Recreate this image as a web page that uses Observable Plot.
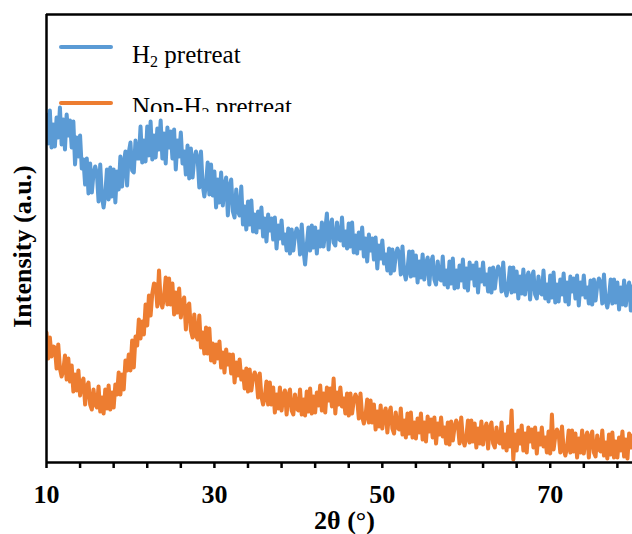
<!DOCTYPE html>
<html><head><meta charset="utf-8">
<script src="https://cdn.jsdelivr.net/npm/d3@7"></script>
<script src="https://cdn.jsdelivr.net/npm/@observablehq/plot@0.6"></script>
<style>
html,body{margin:0;padding:0;background:#fff;}
#wrap{position:relative;width:632px;height:534px;overflow:hidden;}
</style></head><body><div id="wrap"></div>
<script>
const seriesPrefix = ["H", "Non-H"];
const seriesSub = ["2", "2"];
const seriesSuffix = [" pretreat", " pretreat"];
const seriesColors = ["#5B9BD5", "#ED7D31"];
const xTicks = [10,14,18,22,26,30,34,38,42,46,50,54,58,62,66,70,74,78];
const xTickLabels = [10,30,50,70];
const xLabel = "2θ (°)";
const yLabel = "Intensity (a.u.)";

// sampled every 0.2° from 10° to 80° (one row = 1°)
const h2Intensity = [
348,319,352,315,338, 316,345,325,355,318, 343,313,348,327,342, 315,341,298,325,306,
327,294,303,278,304, 269,299,270,289,296, 289,261,298,266,255, 268,293,263,295,266,
293,260,291,273,306, 276,299,311,277,310, 320,292,290,322,304, 304,336,300,322,301,
336,307,341,303,327, 305,334,313,342,304, 329,299,335,315,331, 304,333,293,322,306,
330,299,311,288,317, 284,314,285,304,311, 304,275,311,278,266, 278,300,268,298,267,
291,255,283,260,290, 257,277,285,247,276, 283,251,245,273,251, 247,276,238,256,233,
261,238,262,231,248, 230,251,235,255,226, 244,221,248,232,244, 223,245,214,237,224,
242,219,228,212,234, 209,233,212,227,234, 229,208,238,213,198, 217,235,212,237,215,
235,209,231,216,240, 216,232,249,213,237, 243,220,217,240,224, 222,245,217,231,214,
239,216,240,210,227, 209,230,214,235,206, 224,201,228,212,224, 203,225,194,217,204,
222,199,208,192,214, 189,213,192,207,214, 209,188,216,191,183, 193,211,186,211,187,
207,180,201,185,208, 183,199,205,178,200, 206,183,178,201,184, 182,206,178,192,175,
201,179,204,174,192, 175,197,182,203,175, 194,172,200,184,197, 177,200,170,193,181,
200,178,188,171,194, 170,195,174,189,196, 192,171,200,174,167, 177,195,170,195,171,
191,164,186,169,193, 168,184,190,163,185, 191,168,164,186,170, 168,192,164,178,161,
187,165,190,160,178, 161,183,168,189,161, 180,158,186,171,184, 164,187,157,180,168,
187,165,175,159,182, 158,183,162,177,184, 180,159,188,162,155, 165,183,159,183,160,
180,153,175,158,182, 157,173,180,152,175,
179
];
const nonH2Intensity = [
130,104,125,106,116, 115,94,118,94,86, 92,107,83,104,81, 97,71,88,72,92,
67,80,84,58,76, 80,58,53,73,58, 55,76,51,65,49, 73,54,77,53,70,
55,78,68,90,68, 88,73,102,92,108, 92,122,95,126,117, 143,124,141,128,158,
137,167,147,169,179, 178,156,192,161,155, 166,185,158,184,158, 179,148,170,150,174,
145,160,165,133,156, 159,132,125,148,127, 123,147,115,130,109, 135,109,134,102,119,
100,118,104,121,95, 110,90,113,98,108, 89,108,80,100,87, 103,83,91,74,94,
71,93,72,85,90, 85,65,89,66,58, 65,81,58,80,58, 75,50,68,54,75,
52,67,72,48,67, 73,52,48,68,54, 52,73,48,63,47, 71,51,74,49,66,
50,70,57,77,52, 69,50,75,62,74, 56,84,49,70,58, 75,56,64,49,69,
47,69,49,62,68, 64,44,69,46,39, 47,63,40,62,40, 58,33,51,36,57,
34,49,54,30,49, 55,34,29,50,35, 33,54,28,42,25, 49,29,50,25,40,
24,44,30,49,23, 40,21,46,31,43, 25,45,19,39,28, 45,26,35,19,40,
18,41,22,35,42, 38,19,45,23,17, 25,42,20,42,21, 39,15,34,19,41,
18,33,39,14,34, 40,19,15,35,21, 19,40,15,28,12, 36,16,52,3,28,
12,32,19,37,12, 29,10,35,21,33, 15,35,9,29,18, 35,16,25,10,31,
9,48,13,26,33, 29,10,36,13,7, 15,32,10,32,11, 29,5,24,10,32,
9,24,30,5,25, 31,10,6,27,13, 11,32,7,20,4, 28,8,30,5,21,
5,25,12,31,6, 23,4,29,15,27,
26
];
const twoTheta = d3.range(h2Intensity.length).map(i => +(10 + 0.2 * i).toFixed(1));

const h2Data = twoTheta.map((t, i) => ({t, v: h2Intensity[i]}));
const nonData = twoTheta.map((t, i) => ({t, v: nonH2Intensity[i]}));

const serif = "'Liberation Serif','Times New Roman',Times,serif";

const chart = Plot.plot({
  width: 632, height: 534,
  marginLeft: 46, marginRight: 0, marginTop: 14, marginBottom: 72,
  style: {fontFamily: serif, background: "white", color: "black"},
  x: {domain: [10, 79.8]},
  y: {domain: [0, 448], axis: null},
  marks: [
    Plot.line(h2Data, {x: "t", y: "v", stroke: seriesColors[0], strokeWidth: 4, clip: true}),
    Plot.line(nonData, {x: "t", y: "v", stroke: seriesColors[1], strokeWidth: 4, clip: true}),
    Plot.ruleX([10], {y1: 0, y2: 448, stroke: "black", strokeWidth: 2.5}),
    Plot.ruleY([0], {stroke: "black", strokeWidth: 2.5}),
    Plot.ruleY([448], {stroke: "black", strokeWidth: 2.5}),
    Plot.axisX({ticks: xTicks, tickSize: 6, tickPadding: 16, strokeWidth: 2.5,
      tickFormat: d => xTickLabels.includes(d) ? String(d) : "",
      fontSize: 26, fontWeight: "bold", fill: "black", label: null}),
    Plot.text([xLabel], {text: d => d, frameAnchor: "bottom", dx: 5, dy: 58, lineAnchor: "middle",
      textAnchor: "middle", fontSize: 26, fontWeight: "bold", fill: "black"}),
    Plot.text([yLabel], {text: d => d, frameAnchor: "left", rotate: -90, dx: -24, dy: 8, lineAnchor: "middle",
      textAnchor: "middle", fontSize: 26, fontWeight: "bold", fill: "black"})
  ]
});
document.getElementById("wrap").appendChild(chart);

// legend (clipped at its box like the original)
const leg = d3.select("#wrap").append("svg")
  .attr("width", 400).attr("height", 98)
  .style("position", "absolute").style("left", "46px").style("top", "14px")
  .style("overflow", "hidden");
const swatchY = [33, 89];
const labelY = [49, 101];
seriesPrefix.forEach((p, i) => {
  leg.append("line").attr("x1", 15).attr("x2", 65).attr("y1", swatchY[i]).attr("y2", swatchY[i])
    .attr("stroke", seriesColors[i]).attr("stroke-width", 4).attr("stroke-linecap", "round");
  const t = leg.append("text").attr("x", 86).attr("y", labelY[i])
    .attr("font-family", serif).attr("font-size", 25).attr("fill", "black");
  t.append("tspan").text(p);
  t.append("tspan").attr("font-size", 16).attr("dy", 4).text(seriesSub[i]);
  t.append("tspan").attr("dy", -4).text(seriesSuffix[i]);
});
</script>
</body></html>
